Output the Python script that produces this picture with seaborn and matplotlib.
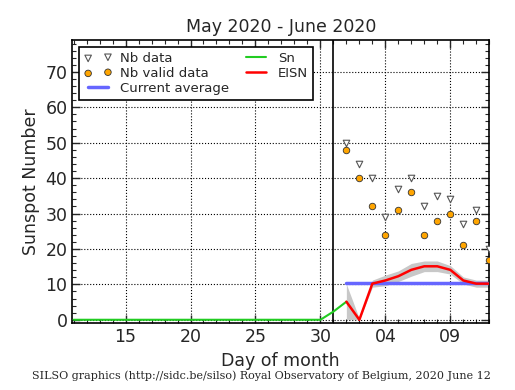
import numpy as np
import pandas as pd
import matplotlib
matplotlib.use('Agg')
import matplotlib.pyplot as plt
import seaborn as sns

# day numbers: May 1 = 1, June 1 = 32
sn_days = list(range(11, 33))
sn_vals = [0] * 20 + [2.3, 5.1]

days = list(range(32, 44))
nb_data = [50, 44, 40, 29, 37, 40, 32, 35, 34, 27, 31, 20]
nb_valid = [48, 40, 32, 24, 31, 36, 24, 28, 30, 21, 28, 17]
eisn = [5.1, 0, 10.2, 11.1, 12.3, 14.1, 15.1, 15.1, 14.1, 11.1, 10.2, 10.2]
eisn_err = [5, 0.3, 1.0, 1.5, 1.5, 1.8, 1.5, 1.5, 1.2, 1.0, 1.0, 1.0]
current_avg = 10.4

tick_pos = [15, 20, 25, 30, 35, 40]
tick_labels = ['15', '20', '25', '30', '04', '09']

sns.set_style('ticks')
plt.rcParams['font.family'] = ['DejaVu Sans']

fig = plt.figure(figsize=(5.15, 3.9), dpi=100)
ax = fig.add_axes([0.1404, 0.171, 0.8096, 0.7264])

df_sn = pd.DataFrame({'day': sn_days, 'sn': sn_vals})
df = pd.DataFrame({'day': days, 'nb': nb_data, 'valid': nb_valid, 'eisn': eisn, 'err': eisn_err})
df['lo'] = (df['eisn'] - df['err']).clip(lower=0)
df['hi'] = df['eisn'] + df['err']

ax.fill_between(df['day'], df['lo'], df['hi'], color='#c8c8c8', lw=0, zorder=1)
ax.axvline(31, color='black', lw=1.2, zorder=2)

sns.scatterplot(data=df, x='day', y='nb', marker='v', s=22, color='white',
                edgecolor='#555555', linewidth=0.8, ax=ax, label='Nb data', zorder=4)
sns.scatterplot(data=df, x='day', y='valid', marker='o', s=22, color='#ffa500',
                edgecolor='#333333', linewidth=0.6, ax=ax, label='Nb valid data', zorder=4)
ax.plot([days[0], days[-1]], [current_avg, current_avg], color='#6666ff', lw=2.5,
        label='Current average', zorder=3)
sns.lineplot(data=df_sn, x='day', y='sn', color='#22cc22', lw=1.5, ax=ax, label='Sn', zorder=3)
sns.lineplot(data=df, x='day', y='eisn', color='red', lw=1.8, ax=ax, label='EISN', zorder=3)

ax.set_xlim(10.9, 43.0)
ax.set_ylim(-1, 79)
ax.set_xticks(tick_pos)
ax.set_xticklabels(tick_labels)
ax.set_yticks(range(0, 80, 10))
ax.set_xticks(np.arange(11, 44, 1), minor=True)
ax.set_yticks(np.arange(0, 79, 2), minor=True)
ax.tick_params(which='both', direction='in', top=True, right=True, labelsize=12.5)
ax.tick_params(which='major', length=6, width=1)
ax.tick_params(which='minor', length=3, width=0.8)
ax.grid(True, which='major', color='black', ls=':', lw=0.8)
for s in ax.spines.values():
    s.set_linewidth(1.2)
    s.set_color('black')

ax.set_xlabel('Day of month', fontsize=12.5)
ax.set_ylabel('Sunspot Number', fontsize=12.5)
ax.set_title('May 2020 - June 2020', fontsize=12.5)

leg = ax.legend(loc='upper left', ncol=2, fontsize=9.5, numpoints=2, scatterpoints=2,
                fancybox=False, framealpha=1, edgecolor='black', handlelength=2.1,
                handletextpad=0.6, columnspacing=1.0, borderpad=0.4, labelspacing=0.15)
leg.get_frame().set_linewidth(1.2)

fig.text(0.507, 0.028, 'SILSO graphics (http://sidc.be/silso) Royal Observatory of Belgium, 2020 June 12',
         ha='center', fontsize=8.0, family='DejaVu Serif')

fig.savefig('out.png', dpi=100)
